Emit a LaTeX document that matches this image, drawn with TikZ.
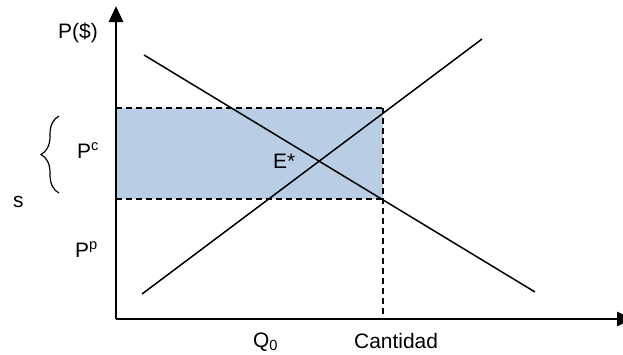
\documentclass[tikz,border=0pt]{standalone}
\usepackage{fontspec}
\setmainfont{Liberation Sans}
\usetikzlibrary{arrows.meta,decorations.pathreplacing}
\definecolor{areafill}{HTML}{B9CDE5}
\begin{document}
\begin{tikzpicture}[x=1bp,y=-1bp,
  lbl/.style={inner sep=0pt,anchor=base west,font=\fontsize{21}{25}\selectfont},
  axisline/.style={line width=2.8bp,-{Triangle[length=16bp,width=14bp]}},
  curve/.style={line width=1.5bp},
  guide/.style={line width=1.5bp,dash pattern=on 6bp off 4bp}]
\useasboundingbox (0,0) rectangle (623,354);
% coordinates
\coordinate (O) at (116,319);
\coordinate (ytop) at (116,6);
\coordinate (xend) at (633,319);
\coordinate (rtl) at (116,108);
\coordinate (rtr) at (383,108);
\coordinate (rbl) at (116,199);
\coordinate (rbr) at (383,199);
\coordinate (qbase) at (383,319);
\coordinate (d1) at (144,55);
\coordinate (d2) at (535,292);
\coordinate (s1) at (142,294);
\coordinate (s2) at (482,39);
\coordinate (b1) at (59,193);
\coordinate (b2) at (59,116);
% shaded area
\fill[areafill] (rtl) rectangle (rbr);
% dashed guides
\draw[guide] (rtl) -- (rtr);
\draw[guide] (rbl) -- (rbr);
\draw[guide] (rtr) -- (qbase);
% curves
\draw[curve] (d1) -- (d2);
\draw[curve] (s1) -- (s2);
% axes
\draw[axisline] (O) -- (ytop);
\draw[axisline] (O) -- (xend);
% brace
\draw[line width=1.2bp,decorate,decoration={brace,amplitude=18bp}] (b1) -- (b2);
% labels
\node[lbl] (py) at (58,38) {P(\$)};
\node[lbl] (pc) at (77,158) {P\textsuperscript{c}};
\node[lbl] (pp) at (75,257) {P\textsuperscript{p}};
\node[lbl] (s) at (13,207) {s};
\node[lbl] (e) at (273,168) {E*};
\node[lbl] (q0) at (253,347) {Q\textsubscript{0}};
\node[lbl] (cant) at (354,348) {Cantidad};
\end{tikzpicture}
\end{document}
